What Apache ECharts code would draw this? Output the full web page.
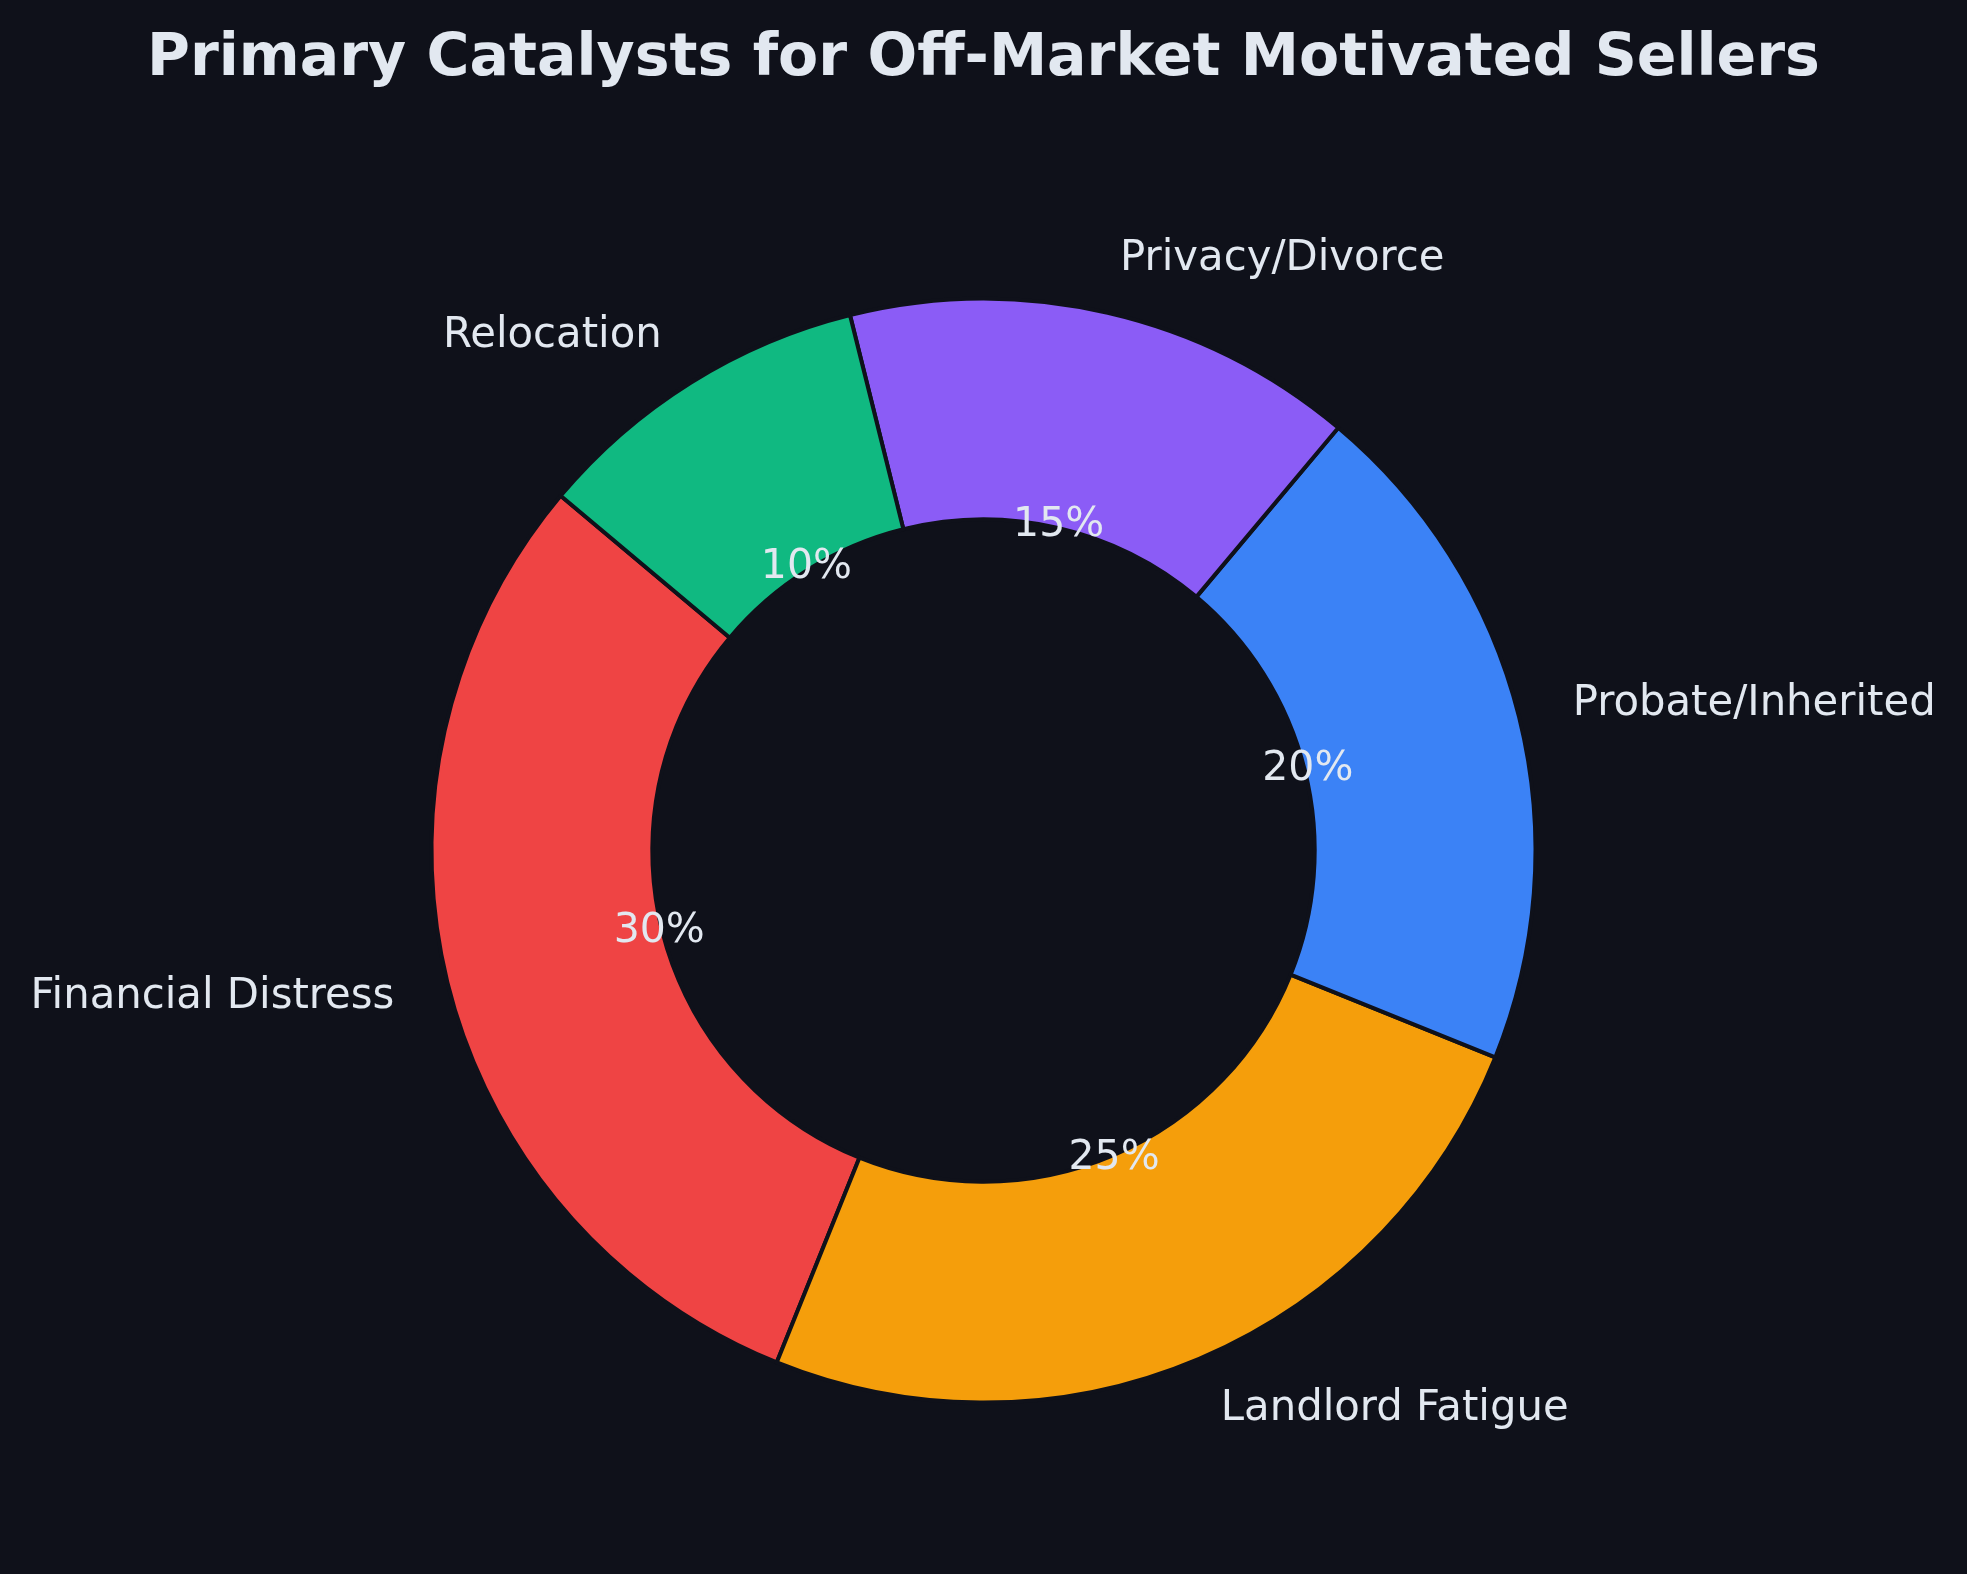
<!DOCTYPE html>
<html>
<head>
<meta charset="utf-8">
<style>
  html, body { margin: 0; padding: 0; background: #0f111a; }
  #chart { width: 1967px; height: 1574px; }
</style>
<script src="https://cdn.jsdelivr.net/npm/echarts@6/dist/echarts.min.js"></script>
</head>
<body>
<div id="chart"></div>
<script>
// categories and shares (%)
const categories = ["Financial Distress", "Landlord Fatigue", "Probate/Inherited", "Privacy/Divorce", "Relocation"];
const shares = [30, 25, 20, 15, 10];
const colors = ["#ef4444", "#f59e0b", "#3b82f6", "#8b5cf6", "#10b981"];

const bg = "#0f111a";
const textColor = "#e2e8f0";
const cx = 983.5, cy = 850.6;
const R = 552;

const chart = echarts.init(document.getElementById("chart"));

const ringData = categories.map((name, i) => ({
  name: name,
  value: shares[i],
  itemStyle: { color: colors[i] }
}));

chart.setOption({
  backgroundColor: bg,
  animation: false,
  title: {
    text: "Primary Catalysts for Off-Market Motivated Sellers",
    left: "center",
    top: 25,
    textStyle: {
      color: textColor,
      fontFamily: "DejaVu Sans",
      fontWeight: "bold",
      fontSize: 58.5
    }
  },
  series: [
    {
      // the donut itself, names outside
      type: "pie",
      center: [cx, cy],
      radius: [R * 0.6, R],
      startAngle: 140,
      clockwise: false,
      avoidLabelOverlap: false,
      silent: true,
      itemStyle: { borderColor: bg, borderWidth: 4 },
      label: {
        show: true,
        position: "outside",
        color: textColor,
        fontFamily: "DejaVu Sans",
        fontSize: 41.8,
        distanceToLabelLine: 0,
        formatter: "{b}"
      },
      labelLine: {
        show: true,
        length: R * 0.1,
        length2: 0,
        lineStyle: { color: "rgba(0,0,0,0)", width: 0 }
      },
      data: ringData
    },
    {
      // invisible pie only used to place the percentages at 0.6R
      type: "pie",
      center: [cx, cy],
      radius: [0, R * 1.2],
      startAngle: 140,
      clockwise: false,
      silent: true,
      itemStyle: { color: "rgba(0,0,0,0)", borderWidth: 0 },
      label: {
        show: true,
        position: "inside",
        color: textColor,
        fontFamily: "DejaVu Sans",
        fontSize: 41,
        formatter: p => p.value + "%"
      },
      labelLine: { show: false },
      data: categories.map((name, i) => ({ name: name, value: shares[i] }))
    }
  ]
});
</script>
</body>
</html>
